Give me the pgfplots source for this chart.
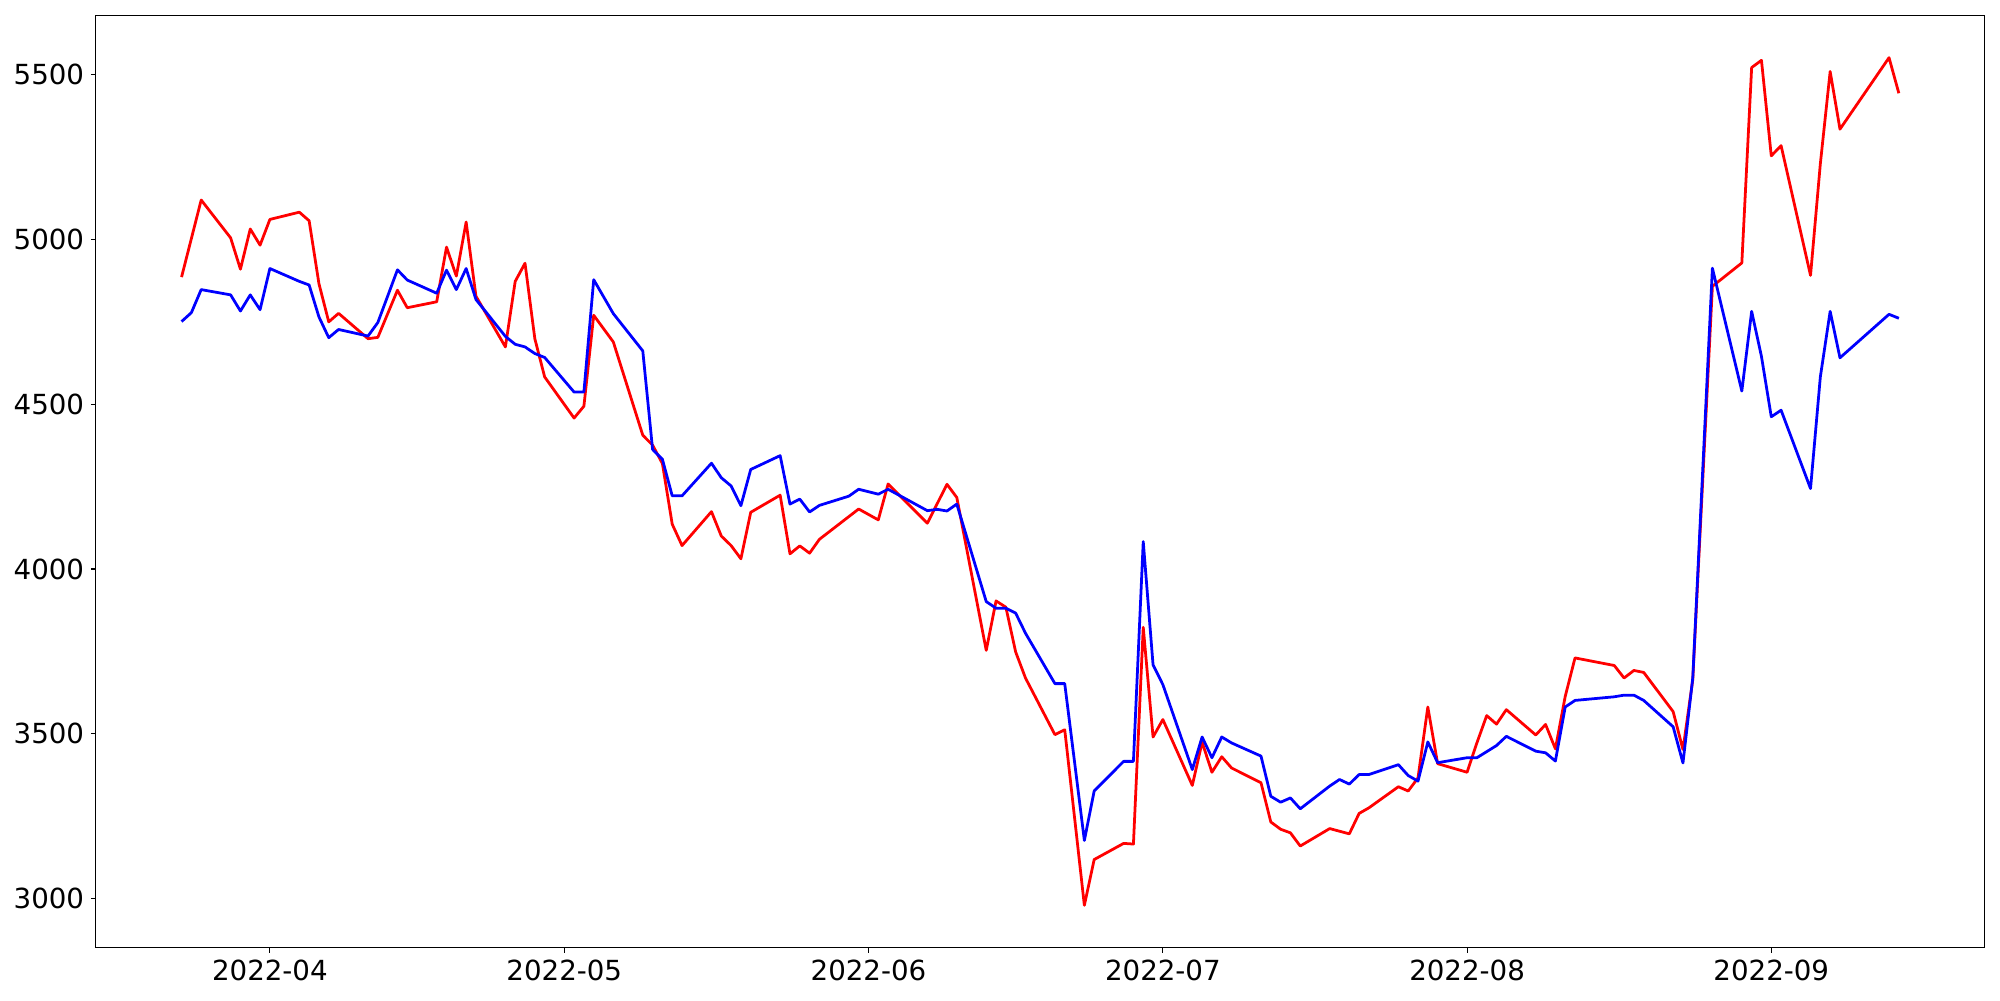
\documentclass[border=0pt]{standalone}
\usepackage{fontspec}
\setmainfont{DejaVu Sans}
\usepackage{pgfplots}
\usepackage{pgfplotstable}
\pgfplotsset{compat=1.18}
% x = days after 2022-04-01
\pgfplotstableread{
d v
-9 4886
-7 5120
-4 5005
-3 4910
-2 5032
-1 4983
0 5061
3 5083
4 5057
5 4866
6 4750
7 4776
10 4699
11 4703
13 4846
14 4793
17 4811
18 4977
19 4889
20 5053
21 4828
24 4674
25 4873
26 4928
27 4699
28 4583
31 4458
32 4494
33 4770
35 4689
38 4406
39 4376
40 4320
41 4136
42 4071
45 4174
46 4100
47 4071
48 4031
49 4172
52 4224
53 4046
54 4070
55 4048
56 4090
60 4182
62 4149
63 4258
67 4139
69 4257
70 4217
73 3753
74 3903
75 3884
76 3748
77 3669
80 3497
81 3512
83 2979
84 3118
87 3167
88 3165
89 3823
90 3490
91 3543
94 3343
95 3474
96 3383
97 3430
98 3396
101 3351
102 3232
103 3210
104 3199
105 3159
108 3212
110 3196
111 3258
112 3275
115 3339
116 3326
117 3366
118 3581
119 3409
122 3383
123 3472
124 3555
125 3529
126 3573
129 3496
130 3528
131 3454
132 3613
133 3730
137 3707
138 3669
139 3692
140 3686
143 3567
144 3452
145 3664
147 4858
150 4929
151 5522
152 5544
153 5254
154 5285
157 4891
158 5230
159 5510
160 5335
165 5552
166 5444
}\redtab
\pgfplotstableread{
d v
-9 4751
-8 4778
-7 4848
-4 4832
-3 4783
-2 4832
-1 4787
0 4912
3 4873
4 4862
5 4765
6 4702
7 4727
10 4707
11 4748
13 4908
14 4877
17 4837
18 4907
19 4848
20 4912
21 4818
24 4706
25 4682
26 4674
27 4654
28 4642
31 4537
32 4537
33 4878
35 4775
38 4662
39 4363
40 4333
41 4222
42 4222
45 4321
46 4277
47 4252
48 4192
49 4302
52 4344
53 4197
54 4212
55 4173
56 4193
59 4221
60 4242
62 4227
63 4242
67 4177
68 4181
69 4176
70 4197
73 3901
74 3881
75 3881
76 3866
77 3805
80 3652
81 3652
83 3176
84 3326
87 3416
88 3416
89 4083
90 3709
91 3649
94 3391
95 3490
96 3427
97 3490
98 3472
101 3432
102 3310
103 3292
104 3305
105 3272
108 3341
109 3361
110 3347
111 3376
112 3376
115 3406
116 3373
117 3356
118 3475
119 3412
122 3427
123 3427
125 3464
126 3492
129 3447
130 3442
131 3417
132 3581
133 3601
137 3612
138 3617
139 3617
140 3601
143 3521
144 3411
145 3669
147 4913
150 4540
151 4782
152 4645
153 4462
154 4482
157 4244
158 4583
159 4782
160 4641
165 4773
166 4761
}\bluetab
\begin{document}
\fontsize{20pt}{24pt}\selectfont
\begin{tikzpicture}
\begin{axis}[
  width=18.89in, height=9.324in, scale only axis,
  xmin=-17.75, xmax=174.75, ymin=2850.35, ymax=5680.65,
  xtick={0,30,61,91,122,153},
  xticklabels={2022-04,2022-05,2022-06,2022-07,2022-08,2022-09},
  ytick={3000,3500,4000,4500,5000,5500},
  tick align=outside, tick pos=left,
  major tick length=3.5pt,
  every tick/.style={black, line width=0.8pt},
  axis line style={line width=0.8pt},
  /pgf/number format/assume math mode=true,
  /pgf/number format/1000 sep={},
  scaled ticks=false,
  tick label style={font=\fontsize{20pt}{24pt}\selectfont},
  xticklabel style={yshift=1.3pt},
  yticklabel style={xshift=2pt},
]
\addplot[color={rgb,1:red,1;green,0;blue,0}, line width=2pt, line join=round, mark=none] table[x=d,y=v] {\redtab};
\addplot[color={rgb,1:red,0;green,0;blue,1}, line width=2pt, line join=round, mark=none] table[x=d,y=v] {\bluetab};
\end{axis}
\path (current axis.south west) ++(-0.957in,-0.523in) coordinate (bl);
\path (current axis.north east) ++(0.153in,0.153in) coordinate (tr);
\path (bl) rectangle (tr);
\end{tikzpicture}
\end{document}
